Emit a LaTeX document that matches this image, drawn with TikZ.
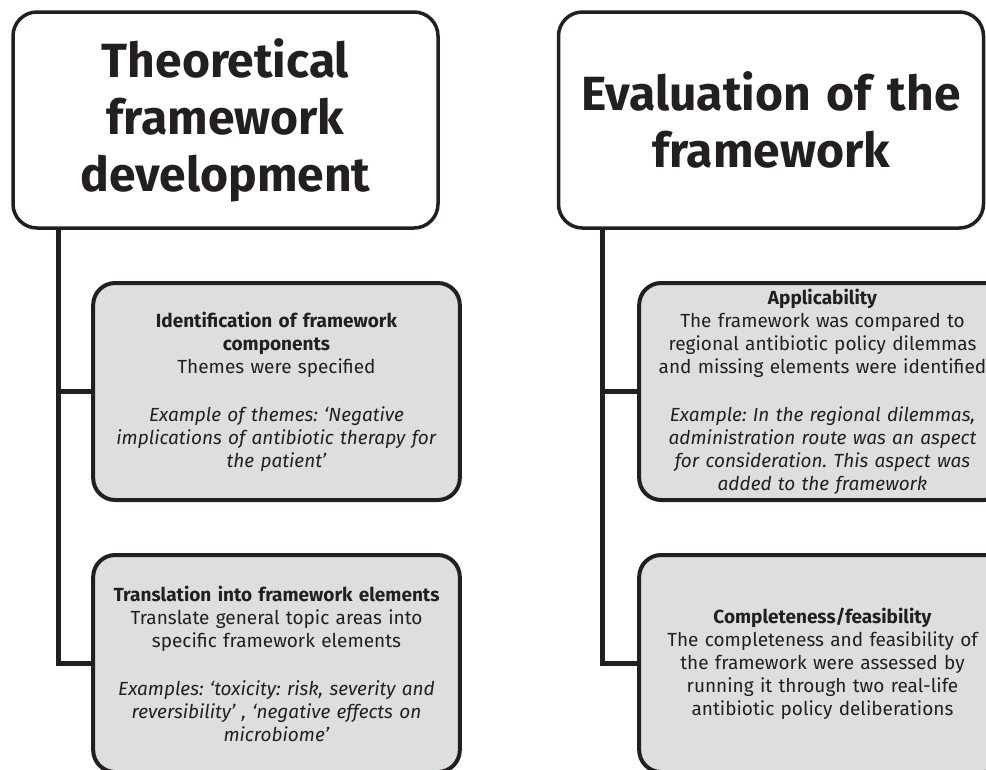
\documentclass[tikz,border=0pt]{standalone}
\usepackage{fontspec}
\setmainfont{Fira Sans}
\usepackage{tikz}
\usetikzlibrary{positioning, calc}
\frenchspacing

\definecolor{boxgray}{RGB}{221,222,224}
\definecolor{ink}{RGB}{35,31,32}

\begin{document}
\begin{tikzpicture}[x=1pt, y=-1pt,
    titlebox/.style={draw=ink, line width=3.5pt, rounded corners=24pt, fill=white,
        minimum width=425pt, minimum height=216pt, text width=415pt, align=center,
        text=ink, font=\fontsize{48}{57}\selectfont\bfseries},
    stagebox/.style={draw=ink, line width=4pt, rounded corners=22pt, fill=boxgray,
        minimum width=353pt, minimum height=217pt, text width=360pt, align=center,
        text=ink, font=\fontsize{19}{23}\selectfont},
    spine/.style={draw=ink, line width=5pt}]

    \useasboundingbox (0,0) rectangle (986,769);
    \clip (0,0) rectangle (986,769);

    % === Column headings ===
    \node[titlebox] (theory) at (225.5,120) {Theoretical\\framework\\development};
    \node[titlebox] (evaluation) at (771,120) {Evaluation of the\\framework};

    % === Left column ===
    \node[stagebox] (components) at (276.5,391.5)
        {\textbf{Identification of framework}\\
         \textbf{components}\\
         Themes were specified\\[25pt]
         \textit{Example of themes: ‘Negative}\\
         \textit{implications of antibiotic therapy for}\\
         \textit{the patient’}};
    \node[stagebox] (elements) at (276.5,663.5)
        {\textbf{Translation into framework elements}\\
         Translate general topic areas into\\
         specific framework elements\\[25pt]
         \textit{Examples: ‘toxicity: risk, severity and}\\
         \textit{reversibility’ , ‘negative effects on}\\
         \textit{microbiome’}};

    % === Right column ===
    \node[stagebox, minimum width=355pt] (applicability) at (822.5,391.5)
        {\textbf{Applicability}\\
         The framework was compared to\\
         regional antibiotic policy dilemmas\\
         and missing elements were identified\\[25pt]
         \textit{Example: In the regional dilemmas,}\\
         \textit{administration route was an aspect}\\
         \textit{for consideration. This aspect was}\\
         \textit{added to the framework}};
    \node[stagebox, minimum width=355pt] (feasibility) at (822.5,663.5)
        {\textbf{Completeness/feasibility}\\
         The completeness and feasibility of\\
         the framework were assessed by\\
         running it through two real-life\\
         antibiotic policy deliberations};

    % === Spines ===
    \coordinate (theory spine) at ([xshift=47pt]theory.south west);
    \coordinate (evaluation spine) at ([xshift=46pt]evaluation.south west);
    \draw[spine] (theory spine) |- (elements.west);
    \draw[spine] (theory spine |- components.west) -- (components.west);
    \draw[spine] (evaluation spine) |- (feasibility.west);
    \draw[spine] (evaluation spine |- applicability.west) -- (applicability.west);
\end{tikzpicture}
\end{document}
